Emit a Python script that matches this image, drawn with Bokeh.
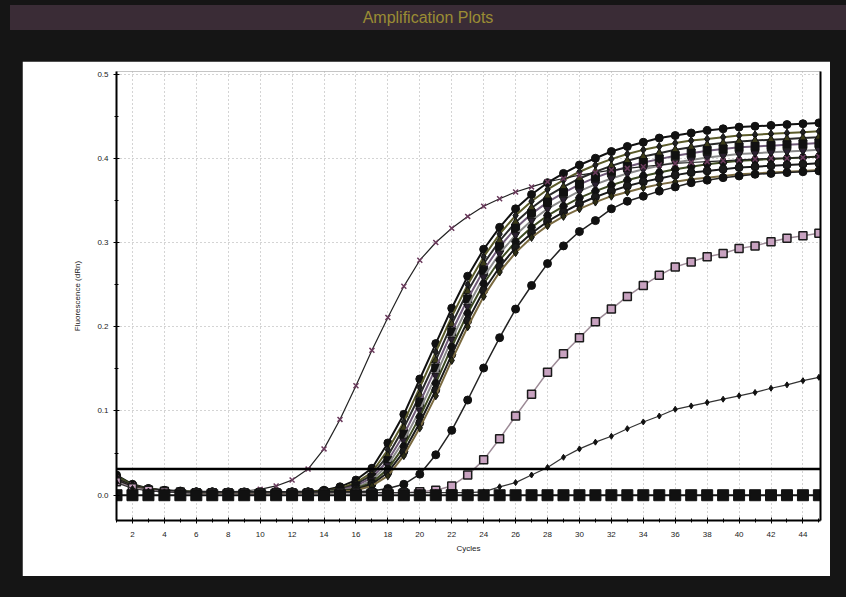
from bokeh.plotting import figure
from bokeh.models import Span, LinearAxis, SingleIntervalTicker, FixedTicker, PrintfTickFormatter, Div
from bokeh.layouts import column
from bokeh.embed import file_html
from bokeh.resources import INLINE

# ---------------- data ----------------
cycles = list(range(1, 46))
threshold = 0.031
title_text = "Amplification Plots"
x_label = "Cycles"
y_label = "Fluorescence (dRn)"

early_x = [0.020, 0.012, 0.008, 0.006, 0.005, 0.004, 0.004, 0.004, 0.005, 0.007,
           0.011, 0.018, 0.031, 0.055, 0.090, 0.130, 0.172, 0.211, 0.248, 0.279,
           0.300, 0.317, 0.331, 0.343, 0.352, 0.360, 0.366, 0.372, 0.376, 0.380,
           0.383, 0.386, 0.388, 0.390, 0.392, 0.394, 0.395, 0.396, 0.397, 0.398,
           0.399, 0.400, 0.400, 0.401, 0.402]

c1 = [0.024, 0.013, 0.008, 0.006, 0.005, 0.004, 0.004, 0.003, 0.003, 0.003, 0.003, 0.004, 0.004, 0.006,
      0.010, 0.018, 0.032, 0.062, 0.096, 0.138, 0.180, 0.222, 0.260, 0.292, 0.318, 0.340, 0.357, 0.371,
      0.382, 0.392, 0.400, 0.408, 0.414, 0.419, 0.424, 0.427, 0.430, 0.433, 0.435, 0.437, 0.438, 0.439,
      0.440, 0.441, 0.442]
c2 = [0.020, 0.011, 0.007, 0.005, 0.004, 0.004, 0.003, 0.003, 0.003, 0.003, 0.003, 0.003, 0.004, 0.005,
      0.008, 0.015, 0.027, 0.054, 0.087, 0.128, 0.170, 0.212, 0.250, 0.283, 0.310, 0.332, 0.349, 0.363,
      0.374, 0.384, 0.392, 0.399, 0.405, 0.410, 0.414, 0.418, 0.421, 0.423, 0.425, 0.427, 0.428, 0.429,
      0.430, 0.431, 0.432]
c3 = [0.022, 0.012, 0.007, 0.005, 0.004, 0.003, 0.003, 0.003, 0.003, 0.003, 0.003, 0.003, 0.003, 0.005,
      0.007, 0.013, 0.024, 0.047, 0.080, 0.119, 0.160, 0.203, 0.242, 0.275, 0.302, 0.324, 0.341, 0.355,
      0.366, 0.376, 0.384, 0.391, 0.397, 0.402, 0.406, 0.410, 0.413, 0.416, 0.418, 0.420, 0.421, 0.422,
      0.423, 0.424, 0.425]
c4 = [0.019, 0.010, 0.006, 0.005, 0.004, 0.003, 0.003, 0.003, 0.002, 0.002, 0.003, 0.003, 0.003, 0.004,
      0.006, 0.011, 0.021, 0.041, 0.072, 0.110, 0.151, 0.194, 0.233, 0.267, 0.295, 0.317, 0.334, 0.348,
      0.359, 0.369, 0.377, 0.384, 0.390, 0.395, 0.399, 0.403, 0.406, 0.409, 0.411, 0.413, 0.414, 0.415,
      0.416, 0.417, 0.418]
c5 = [0.021, 0.011, 0.007, 0.005, 0.004, 0.003, 0.003, 0.003, 0.003, 0.002, 0.002, 0.003, 0.003, 0.004,
      0.005, 0.009, 0.018, 0.036, 0.065, 0.101, 0.142, 0.185, 0.224, 0.259, 0.287, 0.309, 0.326, 0.340,
      0.351, 0.361, 0.369, 0.376, 0.382, 0.387, 0.391, 0.395, 0.398, 0.401, 0.403, 0.405, 0.406, 0.407,
      0.408, 0.409, 0.410]
c6 = [0.023, 0.012, 0.008, 0.005, 0.004, 0.004, 0.003, 0.003, 0.003, 0.003, 0.003, 0.003, 0.003, 0.004,
      0.005, 0.008, 0.015, 0.031, 0.058, 0.093, 0.133, 0.176, 0.216, 0.251, 0.279, 0.301, 0.318, 0.332,
      0.343, 0.353, 0.361, 0.368, 0.374, 0.379, 0.383, 0.387, 0.390, 0.393, 0.395, 0.397, 0.398, 0.399,
      0.400, 0.401, 0.402]
c7 = [0.018, 0.010, 0.006, 0.004, 0.004, 0.003, 0.003, 0.003, 0.003, 0.003, 0.003, 0.003, 0.003, 0.003,
      0.004, 0.007, 0.013, 0.027, 0.052, 0.086, 0.125, 0.167, 0.207, 0.243, 0.271, 0.294, 0.311, 0.325,
      0.336, 0.346, 0.354, 0.361, 0.367, 0.372, 0.376, 0.380, 0.383, 0.385, 0.387, 0.389, 0.390, 0.391,
      0.392, 0.393, 0.394]
c8 = [0.020, 0.011, 0.007, 0.005, 0.004, 0.003, 0.003, 0.003, 0.003, 0.003, 0.003, 0.003, 0.003, 0.003,
      0.004, 0.006, 0.011, 0.023, 0.047, 0.080, 0.118, 0.160, 0.200, 0.236, 0.265, 0.288, 0.306, 0.320,
      0.331, 0.340, 0.348, 0.355, 0.360, 0.365, 0.369, 0.372, 0.375, 0.377, 0.379, 0.381, 0.382, 0.383,
      0.384, 0.385, 0.386]

mid_circles = [0.018, 0.010, 0.006, 0.005, 0.004, 0.004, 0.004, 0.004, 0.004, 0.004, 0.004, 0.004,
               0.004, 0.004, 0.004, 0.004, 0.005, 0.008, 0.013, 0.025, 0.048, 0.077, 0.113, 0.151,
               0.187, 0.221, 0.249, 0.275, 0.296, 0.313, 0.326, 0.340, 0.349, 0.355, 0.361, 0.366,
               0.371, 0.374, 0.377, 0.379, 0.381, 0.382, 0.383, 0.384, 0.385]

open_squares = [0.016, 0.009, 0.006, 0.004, 0.003, 0.003, 0.003, 0.003, 0.003, 0.003, 0.003, 0.003,
                0.003, 0.003, 0.003, 0.003, 0.003, 0.003, 0.003, 0.004, 0.006,
                0.011, 0.024, 0.042, 0.067, 0.094, 0.120, 0.146, 0.168, 0.187, 0.206, 0.221,
                0.236, 0.249, 0.261, 0.271, 0.277, 0.283, 0.287, 0.293, 0.296, 0.301, 0.305,
                0.308, 0.311]

late_curve = [0.015, 0.008, 0.005, 0.004, 0.003, 0.003, 0.003, 0.003, 0.003, 0.003, 0.003, 0.003,
              0.003, 0.003, 0.003, 0.003, 0.003, 0.003, 0.003, 0.003, 0.003, 0.003, 0.003,
              0.004, 0.010, 0.015, 0.024, 0.033, 0.045, 0.055, 0.063, 0.070, 0.079, 0.087,
              0.094, 0.102, 0.106, 0.110, 0.114, 0.118, 0.122, 0.127, 0.131, 0.136, 0.140]

negative = [0.000, 0.000, 0.000, 0.000, 0.000, 0.000, 0.000, 0.000, 0.000, 0.000, 0.000, 0.000,
            0.000, 0.000, 0.000, 0.000, 0.000, 0.000, 0.000, 0.000, 0.000, 0.000, 0.000, 0.000,
            0.000, 0.000, 0.000, 0.000, 0.000, 0.000, 0.000, 0.000, 0.000, 0.000, 0.000, 0.000,
            0.000, 0.000, 0.000, 0.000, 0.000, 0.000, 0.000, 0.000, 0.000]

# ---------------- styles ----------------
FONT = "Liberation Sans"

cluster = [c1, c2, c3, c4, c5, c6, c7, c8]
cluster_markers = ["circle", "diamond", "triangle", "square", "inverted_triangle", "hex", "circle", "diamond"]
cluster_lines = ["#111111", "#5b5b2a", "#2a2a2a", "#6f5a78", "#8a8a8a", "#3d4a22", "#1a1a1a", "#7a6a40"]
cluster_fills = ["#111111", "#222222", "#3b3b18", "#111111", "#2a2030", "#111111", "#1a1a1a", "#2c2c12"]

p = figure(width=808, height=515, x_range=(1, 45.1), y_range=(-0.03, 0.503),
           output_backend="svg", toolbar_location=None,
           min_border_left=94, min_border_right=10, min_border_top=10, min_border_bottom=56,
           background_fill_color="white", border_fill_color="white", outline_line_color=None,
           margin=(31, 16, 20, 22))

p.xaxis.ticker = SingleIntervalTicker(interval=2, num_minor_ticks=2)
p.yaxis.ticker = SingleIntervalTicker(interval=0.1, num_minor_ticks=2)
p.yaxis.formatter = PrintfTickFormatter(format="%.1f")
for ax in (p.xaxis[0], p.yaxis[0]):
    ax.axis_line_width = 2
    ax.axis_line_color = "black"
    ax.major_tick_in = 3
    ax.major_tick_out = 3
    ax.minor_tick_in = 2
    ax.minor_tick_out = 2
    ax.major_tick_line_color = "black"
    ax.minor_tick_line_color = "black"
    ax.major_label_text_font = FONT
    ax.major_label_text_font_size = "8px"
    ax.major_label_text_color = "#222222"
    ax.axis_label_text_font = FONT
    ax.axis_label_text_font_size = "8px"
    ax.axis_label_text_font_style = "normal"
    ax.axis_label_text_color = "#222222"
p.xaxis.axis_label = x_label
p.yaxis.axis_label = y_label
p.xaxis.major_label_standoff = 8
p.xaxis.axis_label_standoff = 4
p.yaxis.major_label_standoff = 5
p.yaxis.axis_label_standoff = 12

right = LinearAxis(ticker=FixedTicker(ticks=[]), axis_line_width=2, axis_line_color="black",
                   major_tick_out=0, major_tick_in=0, minor_tick_out=0, minor_tick_in=0,
                   major_label_standoff=0, major_label_text_font_size="0px")
p.add_layout(right, "right")

for g in (p.xgrid[0], p.ygrid[0]):
    g.grid_line_color = "#a8a8a8"
    g.grid_line_dash = "1 3"
    g.grid_line_width = 1

# cluster curves
for vals, mk, lc, fc in zip(cluster, cluster_markers, cluster_lines, cluster_fills):
    p.line(cycles, vals, line_color=lc, line_width=2)
    p.scatter(cycles, vals, marker=mk, size=8, fill_color=fc, line_color="#111111")

# early curve with x markers
p.line(cycles, early_x, line_color="#222222", line_width=1.2)
p.scatter(cycles, early_x, marker="x", size=7, line_color="#6a3a5c", line_width=1.5)

# mid curve with filled circles
p.line(cycles, mid_circles, line_color="#222222", line_width=1.5)
p.scatter(cycles, mid_circles, marker="circle", size=8, fill_color="#111111", line_color="#111111")

# open squares with pink fill
p.line(cycles, open_squares, line_color="#9c8a96", line_width=1.5)
p.scatter(cycles, open_squares, marker="square", size=8, fill_color="#c8a2c0", line_color="#1a1a1a", line_width=1.5)

# late curve
p.line(cycles, late_curve, line_color="#333333", line_width=1.2)
p.scatter(cycles, late_curve, marker="diamond", size=6, fill_color="#111111", line_color="#111111")

# negative controls
p.line(cycles, negative, line_color="#111111", line_width=2)
p.scatter(cycles, negative, marker="square", size=11, fill_color="#111111", line_color="#111111")

p.add_layout(Span(location=threshold, dimension="width", line_color="black", line_width=2.5))

title_div = Div(
    text=('<div style="width:836px;height:25px;line-height:25px;text-align:center;'
          'font-family:Liberation Sans, Arial, sans-serif;font-size:16px;color:#9a8c34;'
          'background-color:#3a2c36;">' + title_text + '</div>'),
    width=836, height=25, margin=(5, 0, 0, 10))

layout = column(title_div, p, width=846, height=597, spacing=0,
                styles={"background-color": "#151515"})

open("out.html", "w").write(file_html(layout, INLINE))
